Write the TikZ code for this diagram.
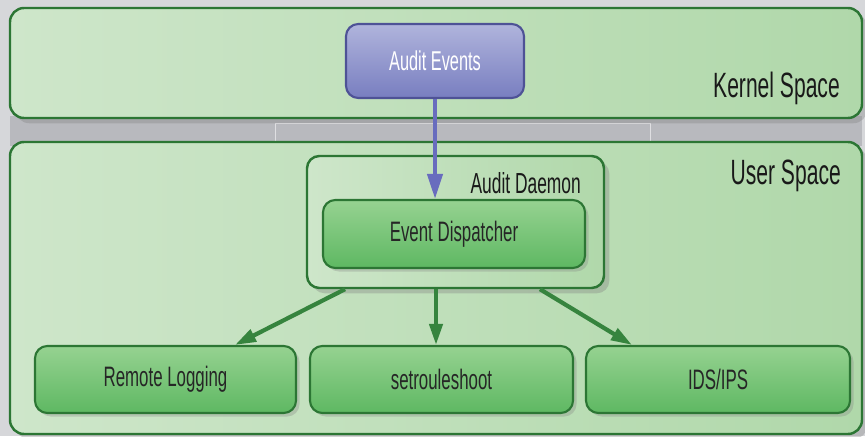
\documentclass[tikz,border=0pt]{standalone}
\usepackage{fontspec}
\setmainfont{Liberation Sans}[FakeStretch=0.6]
\usetikzlibrary{positioning,arrows.meta,shadows}

\definecolor{bggray}{RGB}{214,215,218}
\definecolor{gapgray}{RGB}{184,185,190}
\definecolor{spacegreen}{RGB}{176,216,170}
\definecolor{spacelight}{RGB}{206,230,202}
\definecolor{edgegreen}{RGB}{44,118,52}
\definecolor{nodegreen}{RGB}{94,184,98}
\definecolor{nodelight}{RGB}{150,210,145}
\definecolor{evblue}{RGB}{120,126,192}
\definecolor{evlight}{RGB}{176,180,220}
\definecolor{evedge}{RGB}{78,82,150}
\definecolor{arrblue}{RGB}{104,108,190}
\definecolor{arrgreen}{RGB}{54,132,62}

\begin{document}
\begin{tikzpicture}[
	space/.style={rectangle, rounded corners=8pt, draw=edgegreen, line width=1.4pt,
	shading angle=-60, left color=spacelight, right color=spacegreen,
	drop shadow={opacity=0.35, shadow xshift=3pt, shadow yshift=-3pt}},
	compbox/.style={rectangle, rounded corners=7pt, draw=edgegreen, line width=1.2pt,
	top color=nodelight, bottom color=nodegreen, text=black!85,
	font=\fontsize{16}{18}\selectfont,
	drop shadow={opacity=0.3, shadow xshift=2pt, shadow yshift=-2pt}},
	evbox/.style={rectangle, rounded corners=7pt, draw=evedge, line width=1.2pt,
	top color=evlight, bottom color=evblue, text=white,
	font=\fontsize{15.5}{18}\selectfont},
	spacelabel/.style={font=\fontsize{20}{22}\selectfont, text=black!90, anchor=east},
	garrow/.style={-{Triangle[length=0.42cm,width=0.26cm]}, line width=2.4pt, draw=arrgreen}
	]
	\useasboundingbox (0,0) rectangle (17.3,8.72);
	\fill[bggray] (0,0) rectangle (17.3,8.72);
	\fill[gapgray] (0.2,5.8) rectangle (17.24,6.4);
	\draw[white!55!gapgray, line width=0.5pt] (5.5,5.86) rectangle (13,6.26);

	\node[space, minimum width=17.04cm, minimum height=2.2cm] (kernel) at (8.72,7.46) {};
	\node[space, minimum width=17.04cm, minimum height=5.84cm] (user) at (8.72,2.96) {};
	\node[spacelabel] (kernellbl) at (16.92,6.96) {Kernel Space};
	\node[spacelabel] (userlbl) at (16.94,5.2) {User Space};

	\node[evbox, minimum width=3.56cm, minimum height=1.48cm] (events) at (8.70,7.5) {Audit Events};

	\node[space, rounded corners=7pt, minimum width=5.94cm, minimum height=2.64cm] (daemon) at (9.11,4.28) {};
	\node[anchor=east, font=\fontsize{16.5}{18}\selectfont, text=black!90] (daemonlbl) at (11.74,5.06) {Audit Daemon};
	\node[compbox, minimum width=5.24cm, minimum height=1.36cm] (disp) at (9.08,4.04) {Event Dispatcher};

	\node[compbox, minimum width=5.22cm, minimum height=1.34cm] (remote) at (3.31,1.13) {Remote Logging};
	\node[compbox, minimum width=5.26cm, minimum height=1.34cm] (setr) at (8.83,1.13) {setrouleshoot};
	\node[compbox, minimum width=5.28cm, minimum height=1.34cm] (ids) at (14.36,1.13) {IDS/IPS};

	\draw[-{Triangle[length=0.5cm,width=0.3cm]}, line width=2.4pt, draw=arrblue]
	(events.south) to (events.south |- disp.north);
	\draw[garrow] ([xshift=-2.21cm]daemon.south) to ([xshift=1.39cm]remote.north);
	\draw[garrow] ([xshift=-0.39cm]daemon.south) to ([xshift=-0.11cm]setr.north);
	\draw[garrow] ([xshift=1.69cm]daemon.south) to ([xshift=-1.72cm]ids.north);
\end{tikzpicture}
\end{document}
